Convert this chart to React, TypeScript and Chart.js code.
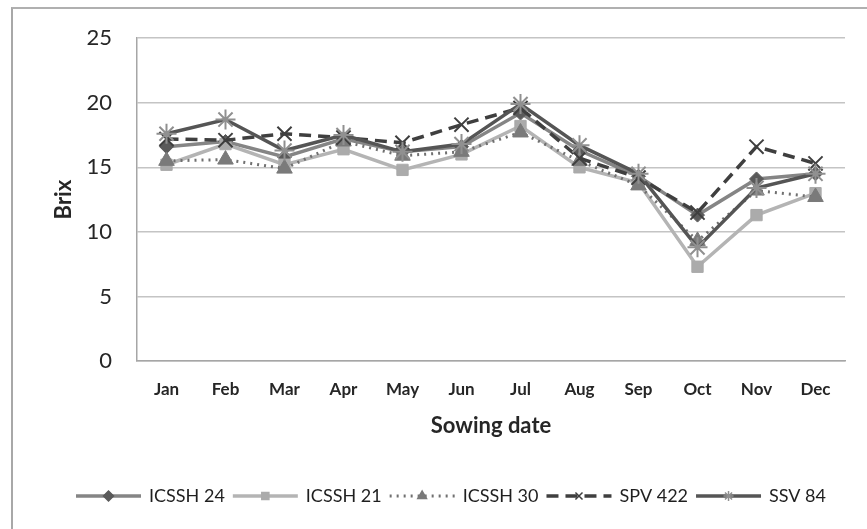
import React, { useEffect, useRef } from "react";
import { Chart, registerables } from "chart.js";
import { drawPoint } from "chart.js/helpers";

Chart.register(...registerables);

const months = ["Jan", "Feb", "Mar", "Apr", "May", "Jun", "Jul", "Aug", "Sep", "Oct", "Nov", "Dec"];
const yTicks = [0, 5, 10, 15, 20, 25];

const icssh24 = [16.6, 17.0, 15.8, 17.2, 16.2, 16.6, 19.2, 16.3, 14.3, 11.3, 14.1, 14.5];
const icssh21 = [15.2, 16.8, 15.2, 16.4, 14.8, 16.0, 18.2, 15.0, 13.8, 7.3, 11.3, 13.0];
const icssh30 = [15.5, 15.6, 14.9, 17.0, 15.9, 16.2, 17.7, 15.5, 13.6, 9.3, 13.2, 12.7];
const spv422 = [17.2, 17.1, 17.6, 17.3, 16.9, 18.3, 19.6, 15.7, 14.2, 11.5, 16.6, 15.3];
const ssv84 = [17.6, 18.7, 16.3, 17.5, 16.2, 16.8, 19.9, 16.7, 14.5, 8.8, 13.4, 14.5];

const FONT = "Lato, 'Open Sans', sans-serif";

const legendPlugin = {
  id: "lineLegend",
  afterDraw(chart: any) {
    const ctx = chart.ctx;
    const ds = chart.data.datasets;
    const segLen = 65;
    const gap1 = 8;
    const gap2 = 8;
    const y = 496;
    ctx.save();
    ctx.font = `18px ${FONT}`;
    const widths = ds.map((d: any) => ctx.measureText(d.label).width);
    let total = 0;
    widths.forEach((w: number) => (total += segLen + gap1 + w + gap2));
    total -= gap2;
    let x = 451 - total / 2;
    ds.forEach((d: any, i: number) => {
      ctx.save();
      ctx.strokeStyle = d.borderColor;
      ctx.lineWidth = d.borderWidth;
      ctx.setLineDash(d.borderDash || []);
      ctx.beginPath();
      ctx.moveTo(x, y);
      ctx.lineTo(x + segLen, y);
      ctx.stroke();
      ctx.setLineDash([]);
      ctx.fillStyle = d.pointBackgroundColor;
      ctx.strokeStyle = d.pointBorderColor;
      ctx.lineWidth = 1.5;
      drawPoint(
        ctx,
        { pointStyle: d.pointStyle, radius: 5, rotation: d.pointRotation || 0, borderWidth: 1.5 } as any,
        x + segLen / 2,
        y
      );
      ctx.restore();
      x += segLen + gap1;
      ctx.font = `18px ${FONT}`;
      ctx.fillStyle = "#1f1f1f";
      ctx.textBaseline = "middle";
      ctx.textAlign = "left";
      ctx.fillText(d.label, x, y);
      x += widths[i] + gap2;
    });
    ctx.restore();
  },
};

export default function App() {
  const ref = useRef<HTMLCanvasElement>(null);
  useEffect(() => {
    if (!ref.current) return;
    const chart = new Chart(ref.current, {
      type: "line",
      data: {
        labels: months,
        datasets: [
          {
            label: "ICSSH 24",
            data: icssh24,
            borderColor: "#858585",
            borderWidth: 3.5,
            pointStyle: "rectRot",
            pointRadius: 7,
            pointBackgroundColor: "#5a5a5a",
            pointBorderColor: "#5a5a5a",
            pointBorderWidth: 1,
            order: 5,
          },
          {
            label: "ICSSH 21",
            data: icssh21,
            borderColor: "#b4b4b4",
            borderWidth: 3.5,
            pointStyle: "rect",
            pointRadius: 8,
            pointBackgroundColor: "#ababab",
            pointBorderColor: "#ababab",
            pointBorderWidth: 1,
            order: 4,
          },
          {
            label: "ICSSH 30",
            data: icssh30,
            borderColor: "#707070",
            borderWidth: 3,
            borderDash: [2, 5],
            pointStyle: "triangle",
            pointRadius: 9,
            pointBackgroundColor: "#7a7a7a",
            pointBorderColor: "#7a7a7a",
            pointBorderWidth: 1,
            order: 3,
          },
          {
            label: "SPV 422",
            data: spv422,
            borderColor: "#3f3f3f",
            borderWidth: 3.5,
            borderDash: [12, 7],
            pointStyle: "cross",
            pointRotation: 45,
            pointRadius: 10,
            pointBackgroundColor: "#3f3f3f",
            pointBorderColor: "#3f3f3f",
            pointBorderWidth: 2,
            order: 2,
          },
          {
            label: "SSV 84",
            data: ssv84,
            borderColor: "#555555",
            borderWidth: 3.5,
            pointStyle: "star",
            pointRadius: 10,
            pointBackgroundColor: "#909090",
            pointBorderColor: "#909090",
            pointBorderWidth: 2,
            order: 1,
          },
        ] as any,
      },
      options: {
        animation: false,
        responsive: false,
        layout: { padding: { left: 40, top: 37, right: 22, bottom: 78 } },
        plugins: { legend: { display: false }, tooltip: { enabled: false } },
        elements: { line: { tension: 0 } },
        scales: {
          x: {
            offset: true,
            grid: { display: false, drawTicks: false },
            border: { display: true, color: "#a6a6a6", width: 1.5 },
            ticks: {
              padding: 18,
              color: "#262626",
              font: { family: FONT, size: 17, weight: "bold" },
              maxRotation: 0,
            },
            title: {
              display: true,
              text: "Sowing date",
              color: "#262626",
              font: { family: FONT, size: 22, weight: "bold" },
              padding: { top: 0, bottom: 12 },
            },
            afterFit(scale: any) {
              scale.height = 90;
            },
          },
          y: {
            min: 0,
            max: 25,
            afterBuildTicks(scale: any) {
              scale.ticks = yTicks.map((v) => ({ value: v }));
            },
            grid: { color: "#c4c4c4", lineWidth: 1.5, drawTicks: false },
            border: { display: true, color: "#a6a6a6", width: 1.5 },
            ticks: {
              padding: 25,
              color: "#262626",
              font: { family: FONT, size: 22 },
            },
            title: {
              display: true,
              text: "Brix",
              color: "#262626",
              font: { family: FONT, size: 22, weight: "bold" },
              padding: { top: 11, bottom: 0 },
            },
            afterFit(scale: any) {
              scale.width = 97;
            },
          },
        },
      } as any,
      plugins: [legendPlugin],
    });
    return () => chart.destroy();
  }, []);
  return (
    <div>
      <div
        style={{
          position: "fixed",
          left: 11,
          top: 7,
          width: 856,
          height: 522,
          borderLeft: "2px solid #a8a8a8",
          borderTop: "2px solid #b0b0b0",
          boxSizing: "border-box",
        }}
      />
      <canvas
        ref={ref}
        width={867}
        height={529}
        style={{ position: "fixed", left: 0, top: 0, width: 867, height: 529 }}
      />
    </div>
  );
}
